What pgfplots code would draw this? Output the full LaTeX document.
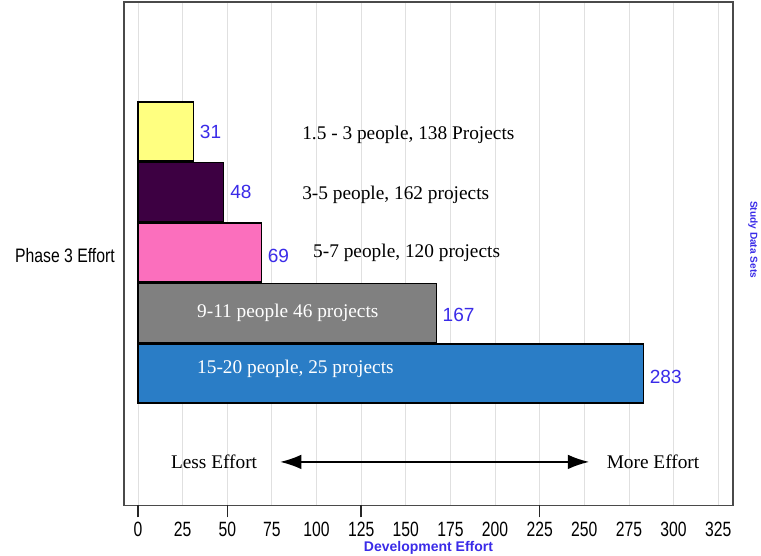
\documentclass[border=0pt]{standalone}
\usepackage{fontspec}
\setmainfont{Liberation Serif}
\setsansfont{Liberation Sans}
\usepackage{graphicx}
\usepackage{pgfplots}
\pgfplotsset{compat=1.18}
\usetikzlibrary{arrows.meta}

\definecolor{barYellow}{HTML}{FFFF80}
\definecolor{barPlum}{HTML}{3D0042}
\definecolor{barPink}{HTML}{FB6FBD}
\definecolor{barGray}{HTML}{808080}
\definecolor{barBlue}{HTML}{2A7DC6}
\definecolor{valBlue}{HTML}{3A2BE8}
\definecolor{frameGray}{HTML}{4A4A4A}

\begin{document}
\begin{tikzpicture}
\begin{axis}[
  at={(0,0)}, anchor=south west,
  scale only axis, width=456.75pt, height=377.625pt,
  xmin=-7.84, xmax=333.3, ymin=-4.18, ymax=4.14,
  axis line style={draw=frameGray, line width=1.3pt},
  xtick={0,25,...,325},
  xtick pos=left, ytick pos=left,
  major tick length=0pt,
  xmajorgrids,
  major grid style={draw=black!12, line width=0.6pt},
  /pgf/number format/assume math mode=true,
  xticklabel style={font=\fontsize{15.5}{16}\sffamily, inner sep=0pt, anchor=north, yshift=-12.4pt},
  xticklabel={\scalebox{0.76}[1]{\pgfmathprintnumber{\tick}}},
  extra x ticks={0,50,125,225},
  extra x tick labels={},
  extra x tick style={major tick length=9pt, tick align=outside,
    tick style={draw=black!85, line width=1pt}, grid=none},
  ytick={0},
  yticklabels={\scalebox{0.81}[1]{Phase 3 Effort}},
  yticklabel style={font=\fontsize{14.6}{15}\sffamily, anchor=east, inner sep=0pt, xshift=-6.75pt, yshift=-1.9pt},
  xlabel={Development Effort},
  xlabel style={at={(axis description cs:0.5,0)}, anchor=center, yshift=-31.9pt,
    font=\fontsize{10.5}{11}\sffamily\bfseries, text=valBlue},
  xbar, bar width=0.975, bar shift=0pt,
  point meta=x,
  nodes near coords,
  every node near coord/.append style={font=\fontsize{14.3}{15}\sffamily, text=valBlue,
    anchor=west, inner sep=0pt, xshift=4.5pt},
  clip=false,
]
% one bar per team size, effort in the same units as the x axis
\addplot[fill=barYellow, draw=black, line width=0.9pt] coordinates {(31,2)};
\addplot[fill=barPlum, draw=black, line width=0.9pt] coordinates {(48,1)};
\addplot[fill=barPink, draw=black, line width=0.9pt,
  every node near coord/.append style={yshift=-2.6pt}] coordinates {(69,0)};
\addplot[fill=barGray, draw=black, line width=0.9pt,
  every node near coord/.append style={yshift=-1.5pt}] coordinates {(167,-1)};
\addplot[fill=barBlue, draw=black, line width=0.9pt,
  every node near coord/.append style={yshift=-2.2pt}] coordinates {(283,-2)};

% team descriptions
\begin{scope}[every node/.style={anchor=west, inner sep=0pt, font=\fontsize{14.5}{15}\selectfont}]
\node at (axis cs:91.9,1.94) {1.5 - 3 people, 138 Projects};
\node at (axis cs:91.9,0.95) {3-5 people, 162 projects};
\node at (axis cs:98,0) {5-7 people, 120 projects};
\node[text=white] at (axis cs:33,-1.0) {9-11 people 46 projects};
\node[text=white] at (axis cs:33,-1.925) {15-20 people, 25 projects};
\end{scope}

% effort direction
\node[font=\fontsize{14.5}{15}\selectfont] at (axis cs:42.6,-3.46) {Less Effort};
\node[font=\fontsize{14.5}{15}\selectfont] at (axis cs:288.5,-3.46) {More Effort};
\draw[{Latex[length=16pt,width=11pt]}-{Latex[length=16pt,width=11pt]}, line width=1.3pt]
  (axis cs:79.6,-3.46) -- (axis cs:252.7,-3.46);

% secondary axis title
\node[rotate=-90, font=\fontsize{7.6}{8}\sffamily\bfseries, text=valBlue]
  at ([xshift=15pt]rel axis cs:1,0.528) {Study Data Sets};
\end{axis}
\pgfresetboundingbox
\useasboundingbox (-93pt,-37.875pt) rectangle (477.75pt,379.125pt);
\end{tikzpicture}
\end{document}
